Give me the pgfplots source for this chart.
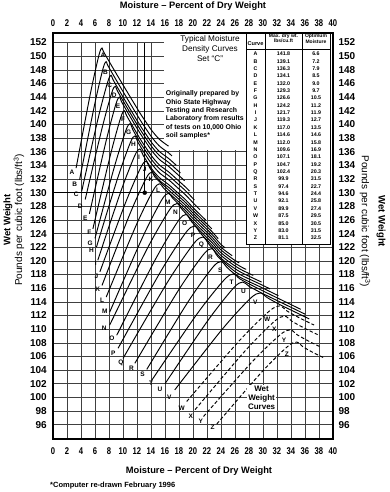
\documentclass[border=0pt]{standalone}
\usepackage{fontspec}
\setmainfont{Liberation Sans}
\newfontfamily\narrowfont{Liberation Sans}[FakeStretch=0.78]
\usepackage{pgfplots}
\pgfplotsset{compat=1.18}
\usetikzlibrary{arrows.meta}
\tikzset{
  lab/.style={font=\fontsize{6.5}{7}\selectfont\bfseries, inner sep=0pt},
  tb/.style={font=\fontsize{5.3}{6}\selectfont\bfseries, inner sep=0pt, anchor=base},
  th/.style={font=\fontsize{5}{6}\selectfont\bfseries, inner sep=0pt, anchor=base},
}
\pgfplotsset{
  crv/.style={black, line width=0.95pt, smooth, tension=0.5},
  dcrv/.style={crv, dash pattern=on 3.5pt off 2.2pt},
  common/.style={scale only axis, width=280pt, height=406pt,
    xmin=0, xmax=40, ymin=93.9, ymax=153.4,
    xtick={0,2,...,40}, ytick={96,98,...,152}, major tick length=0pt,
    /pgf/number format/assume math mode=true,
    xticklabel style={font=\narrowfont\bfseries\fontsize{9.8}{10}\selectfont},
    yticklabel style={font=\bfseries\fontsize{10}{10}\selectfont}},
}
\begin{document}
\begin{tikzpicture}
\begin{axis}[common, grid=major, major grid style={line width=0.55pt, black!75},
  axis line style={draw=none}, clip=false, xticklabel shift=5pt, yticklabel shift=2.7pt]
\coordinate (bbsw) at (rel axis cs:-0.18929,-0.13054);
\coordinate (bbne) at (rel axis cs:1.20357,1.08128);
% white areas (no grid)
\fill[white] (axis cs:15.8,136.3) rectangle (axis cs:40,153.4);
\fill[white] (axis cs:27.57,122.46) rectangle (axis cs:40,136.3);
\fill[white] (axis cs:0,152.08) rectangle (axis cs:15.8,153.4);
% reading example
\addplot[black, line width=0.9pt] coordinates {(0,130) (13.1,130)};
\addplot[black, line width=0.9pt] coordinates {(13.1,130) (13.1,152)};
\addplot[only marks, mark=*, mark size=2pt, black] coordinates {(13.1,130)};
% curves
\addplot[crv] coordinates {(3.3,133.6) (5.34,144.51) (6.56,150.14) (7,151.2) (7.3,150.51) (9.5,146.65) (12.4,141.72) (13.3,140.32) (14.1,139.12) (15.2,137.82) (16.5,136.82)};
\addplot[crv] coordinates {(3.8,131.9) (5.89,142.63) (7.14,148.16) (7.6,149.2) (7.9,148.51) (10,144.82) (12.4,140.74) (13.3,139.34) (14.1,138.14) (15.2,136.84) (16.5,135.84) (17,135.38)};
\addplot[crv] coordinates {(4.1,130.2) (6.41,140.74) (7.8,146.18) (8.3,147.2) (8.64,146.44) (10.5,143.16) (12.4,139.93) (13.3,138.53) (14.1,137.33) (15.2,136.03) (16.5,135.03) (17.6,134.02)};
\addplot[crv] coordinates {(4.6,129) (6.97,139.29) (8.38,144.6) (8.9,145.6) (9.24,144.84) (11,141.73) (12.4,139.35) (13.3,137.95) (14.1,136.75) (15.2,135.45) (16.5,134.45) (17.7,133.35) (18.2,132.89)};
\addplot[crv] coordinates {(5.2,126.9) (7.57,137.5) (8.98,142.97) (9.5,144) (9.84,143.24) (11.5,140.3) (12.4,138.77) (13.3,137.37) (14.1,136.17) (15.2,134.87) (16.5,133.87) (17.7,132.77) (18.8,131.76)};
\addplot[crv] coordinates {(5.7,124.7) (8.18,135.43) (9.66,140.96) (10.2,142) (10.56,141.21) (12.4,137.96) (13.3,136.56) (14.1,135.36) (15.2,134.06) (16.5,133.06) (17.7,131.96) (19,130.76) (19.5,130.22)};
\addplot[crv] coordinates {(6,123.3) (8.75,133.72) (10.4,139.09) (11,140.1) (11.4,139.24) (12.4,137.42) (13.3,136.02) (14.1,134.82) (15.2,133.52) (16.5,132.52) (17.7,131.42) (19,130.22) (20.2,128.92)};
\addplot[crv] coordinates {(6.2,122) (9.23,132.11) (11.04,137.32) (11.7,138.3) (12.14,137.37) (13.3,135.41) (14.1,134.21) (15.2,132.91) (16.5,131.91) (17.7,130.81) (19,129.61) (20.2,128.31) (21,127.51)};
\addplot[crv] coordinates {(6.4,120.1) (9.7,130.21) (11.68,135.42) (12.4,136.4) (12.88,135.47) (14.1,133.5) (15.2,132.2) (16.5,131.2) (17.7,130.1) (19,128.9) (20.2,127.6) (21.4,126.4) (21.8,126)};
\addplot[crv] coordinates {(6.7,118.4) (10.33,128.44) (12.51,133.63) (13.3,134.6) (13.83,133.62) (15.2,131.8) (16.5,130.8) (17.7,129.7) (19,128.5) (20.2,127.2) (21.4,126) (22.7,124.7)};
\addplot[crv] coordinates {(7,116.4) (10.91,126.69) (13.25,132) (14.1,133) (14.67,132.15) (16.5,130.4) (17.7,129.3) (19,128.1) (20.2,126.8) (21.4,125.6) (22.7,124.3) (23.6,123.26)};
\addplot[crv] coordinates {(7.6,114.7) (11.78,124.99) (14.29,130.3) (15.2,131.3) (15.81,130.65) (16.5,130) (17.7,128.9) (19,127.7) (20.2,126.4) (21.4,125.2) (22.7,123.9) (24,122.4) (24.6,121.93)};
\addplot[crv] coordinates {(8.1,112.5) (12.72,123.29) (15.49,128.86) (16.5,129.9) (17.17,129.11) (19,127.3) (20.2,126) (21.4,124.8) (22.7,123.5) (24,122) (25.6,120.76)};
\addplot[crv] coordinates {(8.1,110.6) (13.38,121.64) (16.55,127.33) (17.7,128.4) (18.47,127.51) (20.2,125.6) (21.4,124.4) (22.7,123.1) (24,121.6) (25.8,120.2) (26.6,119.71)};
\addplot[crv] coordinates {(9.1,109.1) (14.55,120.07) (17.81,125.74) (19,126.8) (19.79,125.76) (21.4,124) (22.7,122.7) (24,121.2) (25.8,119.8) (27.1,119) (27.6,118.76)};
\addplot[crv] coordinates {(9.3,107.2) (15.3,118.3) (18.89,124.03) (20.2,125.1) (21.07,124.05) (22.7,122.3) (24,120.8) (25.8,119.4) (27.1,118.6) (28.6,117.88)};
\addplot[crv] coordinates {(10,105.7) (16.27,116.74) (20.03,122.43) (21.4,123.5) (22.31,122.41) (24,120.4) (25.8,119) (27.1,118.2) (29.8,116.9)};
\addplot[crv] coordinates {(11.7,105) (17.75,115.42) (21.38,120.79) (22.7,121.8) (23.58,120.6) (25.8,118.6) (27.1,117.8) (29.6,116.6) (31,115.9)};
\addplot[crv] coordinates {(13.4,104.1) (19.23,113.9) (22.73,118.95) (24,119.9) (24.85,119.06) (25.8,118.2) (27.1,117.4) (29.6,116.2) (32.2,114.9)};
\addplot[crv] coordinates {(14.1,102.5) (20.54,112.17) (24.4,117.16) (25.8,118.1) (26.74,117.34) (29.6,115.8) (33.4,113.9) (35.4,112.9)};
\addplot[crv] coordinates {(16,102) (22.11,111.24) (25.77,116.01) (27.1,116.9) (27.99,116.29) (29.6,115.4) (32.4,114) (34.6,112.9) (36,112.2)};
\addplot[crv] coordinates {(17.4,101.1) (24.11,109.9) (28.14,114.45) (29.6,115.3) (30.58,114.63) (32.4,113.6) (34.8,112.4) (36.6,111.5)};
\addplot[dcrv] coordinates {(19.1,99.4) (26.42,108.08) (30.8,112.56) (32.4,113.4) (33.46,112.64) (35.3,111.6) (37.3,110.6)};
\addplot[dcrv] coordinates {(20.3,98.2) (27.34,106.69) (31.56,111.08) (33.1,111.9) (34.12,111.16) (36,110.1) (37.8,109.2)};
\addplot[dcrv] coordinates {(21.5,97.2) (28.32,105.07) (32.41,109.14) (33.9,109.9) (34.89,109.17) (36.6,108.2) (38.2,107.4)};
\addplot[dcrv] coordinates {(23.4,96.1) (29.67,103.54) (33.43,107.38) (34.8,108.1) (35.71,107.41) (37.2,106.55) (38.6,105.85)};
% start labels
\node[lab] at (axis cs:2.7,133.0) {A};
\node[lab] at (axis cs:3.1,131.2) {B};
\node[lab] at (axis cs:3.3,129.7) {C};
\node[lab] at (axis cs:3.9,128.0) {D};
\node[lab] at (axis cs:4.6,126.2) {E};
\node[lab] at (axis cs:5.2,124.2) {F};
\node[lab] at (axis cs:5.3,122.6) {G};
\node[lab] at (axis cs:5.5,121.5) {H};
\node[lab] at (axis cs:6.1,119.6) {I};
\node[lab] at (axis cs:6.2,117.7) {J};
\node[lab] at (axis cs:6.4,115.9) {K};
\node[lab] at (axis cs:7.0,114.2) {L};
\node[lab] at (axis cs:7.4,112.6) {M};
\node[lab] at (axis cs:7.3,110.2) {N};
\node[lab] at (axis cs:8.4,108.6) {O};
\node[lab] at (axis cs:8.6,106.4) {P};
\node[lab] at (axis cs:9.7,105.0) {Q};
\node[lab] at (axis cs:11.2,104.3) {R};
\node[lab] at (axis cs:12.8,103.4) {S};
\node[lab] at (axis cs:14.0,102.1) {T};
\node[lab] at (axis cs:15.3,101.2) {U};
\node[lab] at (axis cs:16.6,100.0) {V};
\node[lab] at (axis cs:18.4,98.4) {W};
\node[lab] at (axis cs:19.7,97.3) {X};
\node[lab] at (axis cs:21.1,96.5) {Y};
\node[lab] at (axis cs:22.8,95.6) {Z};
% peak labels
\node[lab] at (axis cs:7.15,150.1) {A};
\node[lab] at (axis cs:7.5,147.6) {B};
\node[lab] at (axis cs:8.1,145.7) {C};
\node[lab] at (axis cs:8.75,144.3) {D};
\node[lab] at (axis cs:9.3,142.7) {E};
\node[lab] at (axis cs:10.0,140.7) {F};
\node[lab] at (axis cs:10.8,138.9) {G};
\node[lab] at (axis cs:11.5,137.1) {H};
\node[lab] at (axis cs:12.3,135.2) {I};
\node[lab] at (axis cs:13.1,133.4) {J};
\node[lab] at (axis cs:14.0,131.9) {K};
\node[lab] at (axis cs:15.0,130.3) {L};
\node[lab] at (axis cs:16.4,128.6) {M};
\node[lab] at (axis cs:17.5,127.1) {N};
\node[lab] at (axis cs:18.8,125.5) {O};
\node[lab] at (axis cs:20.0,123.8) {P};
\node[lab] at (axis cs:21.2,122.3) {Q};
\node[lab] at (axis cs:22.5,120.5) {R};
\node[lab] at (axis cs:23.9,118.7) {S};
\node[lab] at (axis cs:25.5,116.9) {T};
\node[lab] at (axis cs:27.2,115.6) {U};
\node[lab] at (axis cs:28.9,114.0) {V};
\node[lab] at (axis cs:30.6,111.5) {W};
\node[lab] at (axis cs:31.6,110.0) {X};
\node[lab] at (axis cs:33.0,108.4) {Y};
\node[lab] at (axis cs:33.4,106.3) {Z};
% texts
\node[anchor=base, font=\fontsize{8.2}{9}\selectfont, inner sep=0pt] at (axis cs:22.43,152.09) {Typical Moisture};
\node[anchor=base, font=\fontsize{8.2}{9}\selectfont, inner sep=0pt] at (axis cs:22.43,150.63) {Density Curves};
\node[anchor=base, font=\fontsize{8.2}{9}\selectfont, inner sep=0pt] at (axis cs:22.43,149.16) {Set ``C''};
\node[anchor=base west, font=\fontsize{6.9}{8}\selectfont\bfseries, inner sep=0pt] at (axis cs:16.1,144.19) {Originally prepared by};
\node[anchor=base west, font=\fontsize{6.9}{8}\selectfont\bfseries, inner sep=0pt] at (axis cs:16.1,142.96) {Ohio State Highway};
\node[anchor=base west, font=\fontsize{6.9}{8}\selectfont\bfseries, inner sep=0pt] at (axis cs:16.1,141.74) {Testing and Research};
\node[anchor=base west, font=\fontsize{6.9}{8}\selectfont\bfseries, inner sep=0pt] at (axis cs:16.1,140.53) {Laboratory from results};
\node[anchor=base west, font=\fontsize{6.9}{8}\selectfont\bfseries, inner sep=0pt] at (axis cs:16.1,139.29) {of tests on 10,000 Ohio};
\node[anchor=base west, font=\fontsize{6.9}{8}\selectfont\bfseries, inner sep=0pt] at (axis cs:16.1,138.07) {soil samples*};
\node[fill=white, align=center, font=\fontsize{8}{8.8}\selectfont\bfseries, inner sep=1pt] at (axis cs:29.8,99.9) {Wet\\Weight\\Curves};
% table
\draw[line width=0.8pt] (axis cs:27.57,122.46) rectangle (axis cs:39.57,153.4);
\draw[line width=0.6pt] (axis cs:30.29,122.46) -- (axis cs:30.29,153.4);
\draw[line width=0.6pt] (axis cs:35.57,122.46) -- (axis cs:35.57,153.4);
\draw[line width=0.6pt] (axis cs:27.57,151.05) -- (axis cs:39.57,151.05);
\node[th, font=\fontsize{5.6}{6}\selectfont\bfseries] at (axis cs:28.93,151.54) {Curve};
\node[th] at (axis cs:32.93,152.77) {Max. dry wt.};
\node[th] at (axis cs:32.93,151.98) {lbs/cu.ft};
\node[th] at (axis cs:37.57,152.71) {Optimum};
\node[th] at (axis cs:37.57,151.89) {Moisture};
\node[tb] at (axis cs:28.93,150.07) {A};\node[tb] at (axis cs:32.93,150.07) {141.8};\node[tb] at (axis cs:37.57,150.07) {6.6};
\node[tb] at (axis cs:28.93,148.99) {B};\node[tb] at (axis cs:32.93,148.99) {139.1};\node[tb] at (axis cs:37.57,148.99) {7.2};
\node[tb] at (axis cs:28.93,147.91) {C};\node[tb] at (axis cs:32.93,147.91) {136.3};\node[tb] at (axis cs:37.57,147.91) {7.9};
\node[tb] at (axis cs:28.93,146.83) {D};\node[tb] at (axis cs:32.93,146.83) {134.1};\node[tb] at (axis cs:37.57,146.83) {8.5};
\node[tb] at (axis cs:28.93,145.75) {E};\node[tb] at (axis cs:32.93,145.75) {132.0};\node[tb] at (axis cs:37.57,145.75) {9.0};
\node[tb] at (axis cs:28.93,144.67) {F};\node[tb] at (axis cs:32.93,144.67) {129.3};\node[tb] at (axis cs:37.57,144.67) {9.7};
\node[tb] at (axis cs:28.93,143.60) {G};\node[tb] at (axis cs:32.93,143.60) {126.6};\node[tb] at (axis cs:37.57,143.60) {10.5};
\node[tb] at (axis cs:28.93,142.52) {H};\node[tb] at (axis cs:32.93,142.52) {124.2};\node[tb] at (axis cs:37.57,142.52) {11.2};
\node[tb] at (axis cs:28.93,141.44) {I};\node[tb] at (axis cs:32.93,141.44) {121.7};\node[tb] at (axis cs:37.57,141.44) {11.9};
\node[tb] at (axis cs:28.93,140.36) {J};\node[tb] at (axis cs:32.93,140.36) {119.3};\node[tb] at (axis cs:37.57,140.36) {12.7};
\node[tb] at (axis cs:28.93,139.28) {K};\node[tb] at (axis cs:32.93,139.28) {117.0};\node[tb] at (axis cs:37.57,139.28) {13.5};
\node[tb] at (axis cs:28.93,138.20) {L};\node[tb] at (axis cs:32.93,138.20) {114.6};\node[tb] at (axis cs:37.57,138.20) {14.6};
\node[tb] at (axis cs:28.93,137.12) {M};\node[tb] at (axis cs:32.93,137.12) {112.0};\node[tb] at (axis cs:37.57,137.12) {15.8};
\node[tb] at (axis cs:28.93,136.04) {N};\node[tb] at (axis cs:32.93,136.04) {109.6};\node[tb] at (axis cs:37.57,136.04) {16.9};
\node[tb] at (axis cs:28.93,134.96) {O};\node[tb] at (axis cs:32.93,134.96) {107.1};\node[tb] at (axis cs:37.57,134.96) {18.1};
\node[tb] at (axis cs:28.93,133.88) {P};\node[tb] at (axis cs:32.93,133.88) {104.7};\node[tb] at (axis cs:37.57,133.88) {19.2};
\node[tb] at (axis cs:28.93,132.80) {Q};\node[tb] at (axis cs:32.93,132.80) {102.4};\node[tb] at (axis cs:37.57,132.80) {20.3};
\node[tb] at (axis cs:28.93,131.72) {R};\node[tb] at (axis cs:32.93,131.72) {99.9};\node[tb] at (axis cs:37.57,131.72) {31.5};
\node[tb] at (axis cs:28.93,130.64) {S};\node[tb] at (axis cs:32.93,130.64) {97.4};\node[tb] at (axis cs:37.57,130.64) {22.7};
\node[tb] at (axis cs:28.93,129.56) {T};\node[tb] at (axis cs:32.93,129.56) {94.6};\node[tb] at (axis cs:37.57,129.56) {24.4};
\node[tb] at (axis cs:28.93,128.49) {U};\node[tb] at (axis cs:32.93,128.49) {92.1};\node[tb] at (axis cs:37.57,128.49) {25.8};
\node[tb] at (axis cs:28.93,127.41) {V};\node[tb] at (axis cs:32.93,127.41) {89.9};\node[tb] at (axis cs:37.57,127.41) {27.4};
\node[tb] at (axis cs:28.93,126.33) {W};\node[tb] at (axis cs:32.93,126.33) {87.5};\node[tb] at (axis cs:37.57,126.33) {29.5};
\node[tb] at (axis cs:28.93,125.25) {X};\node[tb] at (axis cs:32.93,125.25) {85.0};\node[tb] at (axis cs:37.57,125.25) {30.5};
\node[tb] at (axis cs:28.93,124.17) {Y};\node[tb] at (axis cs:32.93,124.17) {83.0};\node[tb] at (axis cs:37.57,124.17) {31.5};
\node[tb] at (axis cs:28.93,123.09) {Z};\node[tb] at (axis cs:32.93,123.09) {81.1};\node[tb] at (axis cs:37.57,123.09) {32.5};
% axis titles
\node[anchor=base, font=\fontsize{9.3}{10}\selectfont\bfseries, inner sep=0pt] at (axis cs:20.0,157.02) {Moisture -- Percent of Dry Weight};
\node[anchor=base, font=\fontsize{9.3}{10}\selectfont\bfseries, inner sep=0pt] at (axis cs:20.86,88.84) {Moisture -- Percent of Dry Weight};
\node[anchor=base west, font=\fontsize{7.5}{8}\selectfont\bfseries, inner sep=0pt] at (axis cs:-0.43,86.73) {*Computer re-drawn February 1996};
\node[rotate=90, font=\fontsize{9.5}{10}\selectfont\bfseries, inner sep=0pt] at (axis cs:-6.43,126.0) {Wet Weight};
\node[rotate=90, font=\fontsize{10}{10}\selectfont, inner sep=0pt] at (axis cs:-4.86,126.0) {Pounds per cubic foot (lbs/ft\textsuperscript{3})};
\node[rotate=-90, font=\fontsize{10}{10}\selectfont, inner sep=0pt] at (axis cs:44.57,125.8) {Pounds per cubic foot (lbs/ft\textsuperscript{3})};
\node[rotate=-90, font=\fontsize{9.5}{10}\selectfont\bfseries, inner sep=0pt] at (axis cs:46.86,125.8) {Wet Weight};
% frame
\draw[line width=1.6pt] (rel axis cs:0,0) rectangle (rel axis cs:1,1);
\end{axis}
\begin{axis}[common, axis x line*=top, axis y line*=right, axis line style={draw=none},
  xticklabel shift=3pt, yticklabel shift=2pt]
\addplot[draw=none] coordinates {(0,100)};
\end{axis}
\pgfresetboundingbox
\path[use as bounding box] (bbsw) rectangle (bbne);
\end{tikzpicture}
\end{document}
